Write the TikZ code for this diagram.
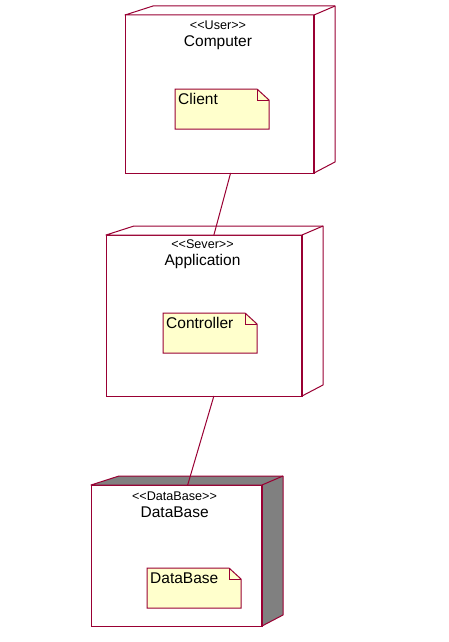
\documentclass[tikz,border=0pt]{standalone}
\usepackage{fontspec}
\setmainfont{Liberation Sans}
\usetikzlibrary{calc}
\definecolor{edge}{RGB}{153,0,51}
\definecolor{notefill}{RGB}{255,255,204}
\definecolor{dbgrey}{RGB}{128,128,128}
\begin{document}
\begin{tikzpicture}[x=1pt,y=-1pt,
 box/.style={draw=edge,line width=1pt,fill=white,inner sep=0pt,outer sep=0pt},
 stereo/.style={inner sep=0pt,font=\fontsize{12.6}{14}\selectfont},
 title/.style={inner sep=0pt,font=\fontsize{15.5}{18}\selectfont},
 note/.style={inner sep=0pt,outer sep=0pt,minimum width=94pt,minimum height=40pt},
 notetext/.style={inner sep=0pt,anchor=north west,font=\fontsize{15.5}{18}\selectfont}]
 \useasboundingbox (0,0) rectangle (448,642);
 % nodes (front faces)
 \node[box,minimum width=189pt,minimum height=158pt] (comp) at (219.5,94) {};
 \node[box,minimum width=196pt,minimum height=161pt] (app) at (204,315.5) {};
 \node[box,minimum width=171pt,minimum height=141pt] (db) at (176.5,555.5) {};
 % depth of the cubes
 \foreach \n/\f in {comp/white,app/white,db/dbgrey} {
  \draw[draw=edge,line width=1pt,fill=\f,line join=round]
   (\n.north west) -- ($(\n.north west)+(28,-9)$) -- ($(\n.north east)+(21,-9)$)
   -- ($(\n.south east)+(21,-11)$) -- (\n.south east) -- (\n.north east) -- cycle;
  \draw[draw=edge,line width=1pt] (\n.north east) -- ($(\n.north east)+(21,-9)$);
  \draw[draw=edge,line width=2pt] (\n.north east) -- (\n.south east);
 }
 % connectors
 \draw[edge,line width=1pt] (comp.-82) -- (app.83);
 \draw[edge,line width=1pt] (app.-83) -- (db.81.5);
 % names
 \node[stereo] (compst) at (218,25) {{<}{<}User{>}{>}};
 \node[title] (compnm) at (218,42.5) {Computer};
 \node[stereo] (appst) at (202.5,244) {{<}{<}Sever{>}{>}};
 \node[title] (appnm) at (202.5,261.5) {Application};
 \node[stereo] (dbst) at (174.5,496) {{<}{<}DataBase{>}{>}};
 \node[title] (dbnm) at (174.7,512) {DataBase};
 % notes
 \node[note] (client) at (222,109) {};
 \node[note] (ctrl) at (210,333) {};
 \node[note] (store) at (194,588) {};
 \foreach \n/\t in {client/Client,ctrl/Controller,store/DataBase} {
  \draw[draw=edge,line width=1pt,fill=notefill]
   (\n.north west) -- ($(\n.north east)+(-12,0)$) -- ($(\n.north east)+(0,11)$)
   -- (\n.south east) -- (\n.south west) -- cycle;
  \draw[draw=edge,line width=0.8pt] ($(\n.north east)+(-12,0)$) |- ($(\n.north east)+(0,11)$);
  \node[notetext] at ($(\n.north west)+(3,4.5)$) {\t};
 }
\end{tikzpicture}
\end{document}
